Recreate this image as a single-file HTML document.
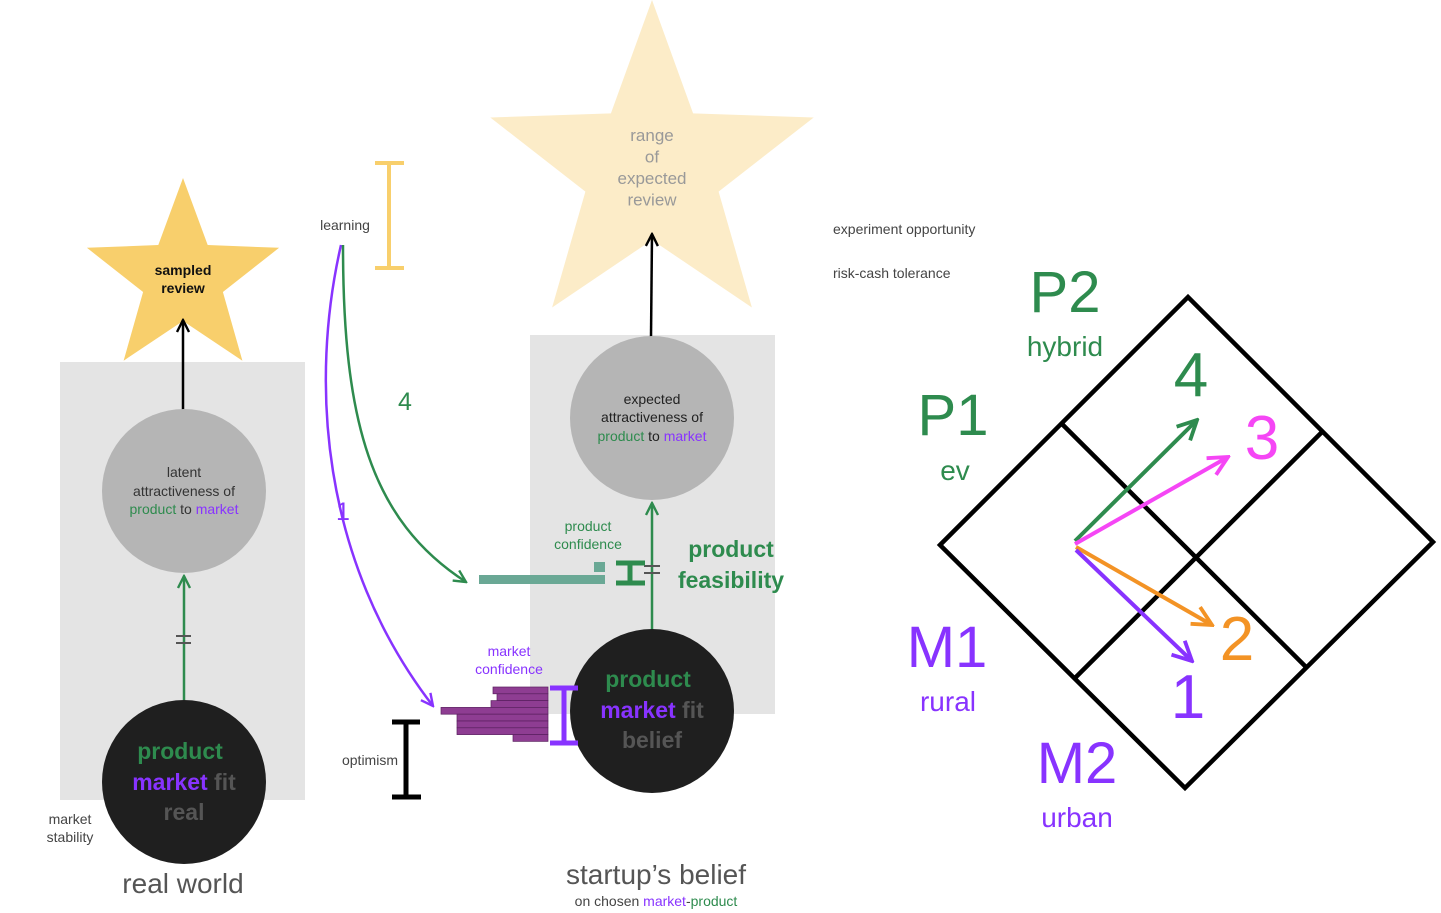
<!DOCTYPE html>
<html><head><meta charset="utf-8"><style>
html,body{margin:0;padding:0;background:#fff;}
svg{display:block;font-family:"Liberation Sans",sans-serif;}
</style></head><body>
<svg id="c" width="1441" height="913" viewBox="0 0 1441 913">
<defs>
<marker id="ab" viewBox="0 0 10 10" refX="9" refY="5" markerWidth="6" markerHeight="6" orient="auto"><path d="M1,1 L9,5 L1,9" fill="none" stroke="context-stroke" stroke-width="1.6"/></marker>
</defs>
<rect x="60" y="362" width="245" height="438" fill="#e4e4e4"/>
<rect x="530" y="335" width="245" height="379" fill="#e4e4e4"/>
<polygon id="starSmall" fill="#f8cf6c"/>
<polygon id="starBig" fill="#fcecc8"/>
<text x="183" y="275" font-size="14" font-weight="bold" text-anchor="middle" fill="#111"><tspan x="183">sampled</tspan><tspan x="183" dy="18">review</tspan></text>
<text x="652" y="141" font-size="17" text-anchor="middle" fill="#999"><tspan x="652">range</tspan><tspan x="652" dy="21.5">of</tspan><tspan x="652" dy="21.5">expected</tspan><tspan x="652" dy="21.5">review</tspan></text>
<line x1="183" y1="410" x2="183" y2="320" stroke="#000" stroke-width="2.5" marker-end="url(#ab)"/>
<line x1="651" y1="337" x2="652" y2="234" stroke="#000" stroke-width="2.5" marker-end="url(#ab)"/>
<circle cx="184" cy="491" r="82" fill="#b5b5b5"/>
<text x="184" y="477" font-size="14" text-anchor="middle" fill="#333"><tspan x="184">latent</tspan><tspan x="184" dy="19">attractiveness of</tspan><tspan x="184" dy="18"><tspan fill="#2e8b4e">product</tspan> to <tspan fill="#8833ff">market</tspan></tspan></text>
<line x1="184" y1="700" x2="184" y2="576" stroke="#2e8b4e" stroke-width="2.5" marker-end="url(#ab)"/>
<line x1="176" y1="636" x2="191" y2="636" stroke="#555" stroke-width="2"/><line x1="176" y1="643" x2="191" y2="643" stroke="#555" stroke-width="2"/>
<circle cx="184" cy="782" r="82" fill="#1f1f1f"/>
<text x="180" y="759" font-size="23" font-weight="bold" text-anchor="middle" fill="#2e8b4e">product<tspan x="184" dy="31" fill="#8833ff">market <tspan fill="#555">fit</tspan></tspan><tspan x="184" dy="30" fill="#555">real</tspan></text>
<text x="70" y="824" font-size="14" text-anchor="middle" fill="#444"><tspan x="70">market</tspan><tspan x="70" dy="18">stability</tspan></text>
<text x="183" y="893" font-size="28" text-anchor="middle" fill="#555">real world</text>
<text x="345" y="230" font-size="14" text-anchor="middle" fill="#444">learning</text>
<g stroke="#f8cf6c" stroke-width="4"><line x1="389" y1="163" x2="389" y2="268"/><line x1="375" y1="163" x2="404" y2="163"/><line x1="375" y1="268" x2="404" y2="268"/></g>
<path d="M341,245 C310,380 320,560 433,706" fill="none" stroke="#8833ff" stroke-width="2.5" marker-end="url(#ab)"/>
<path d="M343,245 C343,420 370,520 466,582" fill="none" stroke="#2e8b4e" stroke-width="2.5" marker-end="url(#ab)"/>
<text x="405" y="410" font-size="25" text-anchor="middle" fill="#2e8b4e">4</text>
<text x="343" y="520" font-size="25" text-anchor="middle" fill="#8833ff">1</text>
<g id="prodHist"></g>
<g id="mktHist"></g>
<text x="588" y="531" font-size="14" text-anchor="middle" fill="#2e8b4e"><tspan x="588">product</tspan><tspan x="588" dy="18">confidence</tspan></text>
<text x="509" y="656" font-size="14" text-anchor="middle" fill="#8833ff"><tspan x="509">market</tspan><tspan x="509" dy="18">confidence</tspan></text>
<g stroke="#000" stroke-width="5"><line x1="406" y1="722" x2="406" y2="797"/><line x1="392" y1="722" x2="420" y2="722"/><line x1="392" y1="797" x2="421" y2="797"/></g>
<text x="370" y="765" font-size="14" text-anchor="middle" fill="#444">optimism</text>
<line x1="652" y1="630" x2="652" y2="503" stroke="#2e8b4e" stroke-width="2.5" marker-end="url(#ab)"/>
<line x1="644" y1="566" x2="660" y2="566" stroke="#555" stroke-width="2"/><line x1="644" y1="573" x2="660" y2="573" stroke="#555" stroke-width="2"/>
<circle cx="652" cy="418" r="82" fill="#b5b5b5"/>
<text x="652" y="404" font-size="14" text-anchor="middle" fill="#222"><tspan x="652">expected</tspan><tspan x="652" dy="18">attractiveness of</tspan><tspan x="652" dy="19"><tspan fill="#2e8b4e">product</tspan> to <tspan fill="#8833ff">market</tspan></tspan></text>
<circle cx="652" cy="711" r="82" fill="#1f1f1f"/>
<text x="648" y="687" font-size="23" font-weight="bold" text-anchor="middle" fill="#2e8b4e">product<tspan x="652" dy="31" fill="#8833ff">market <tspan fill="#555">fit</tspan></tspan><tspan x="652" dy="30" fill="#555">belief</tspan></text>
<g stroke="#2e8b4e" stroke-width="5"><line x1="630" y1="563" x2="630" y2="583"/><line x1="616" y1="563" x2="645" y2="563"/><line x1="616" y1="583" x2="645" y2="583"/></g>
<g stroke="#8833ff" stroke-width="5"><line x1="564" y1="688" x2="564" y2="743"/><line x1="550" y1="688" x2="578" y2="688"/><line x1="550" y1="743" x2="578" y2="743"/></g>
<text x="731" y="557" font-size="23" font-weight="bold" text-anchor="middle" fill="#2e8b4e"><tspan x="731">product</tspan><tspan x="731" dy="31">feasibility</tspan></text>
<text x="656" y="884" font-size="28" text-anchor="middle" fill="#555">startup’s belief</text>
<text x="656" y="906" font-size="14" text-anchor="middle" fill="#444">on chosen <tspan fill="#8833ff">market</tspan>-<tspan fill="#2e8b4e">product</tspan></text>
<text x="833" y="234" font-size="14" fill="#444">experiment opportunity</text>
<text x="833" y="278" font-size="14" fill="#444">risk-cash tolerance</text>
<g fill="none" stroke="#000" stroke-width="4.5" stroke-linejoin="miter">
<polygon points="940,545 1188,297 1433,542 1185,788"/>
<line x1="1062" y1="424" x2="1306" y2="667"/>
<line x1="1075" y1="678" x2="1322" y2="432"/>
</g>
<g stroke-width="4" fill="none" marker-end="url(#ab)">
<line x1="1075" y1="541" x2="1197" y2="420" stroke="#2e8b4e"/>
<line x1="1075" y1="544" x2="1228" y2="457" stroke="#f546f5"/>
<line x1="1076" y1="547" x2="1212" y2="625" stroke="#f39325"/>
<line x1="1076" y1="550" x2="1192" y2="661" stroke="#8833ff"/>
</g>
<text x="1191" y="396" font-size="62" text-anchor="middle" fill="#2e8b4e">4</text>
<text x="1262" y="459" font-size="62" text-anchor="middle" fill="#f546f5">3</text>
<text x="1237" y="660" font-size="62" text-anchor="middle" fill="#f39325">2</text>
<text x="1188" y="718" font-size="62" text-anchor="middle" fill="#8833ff">1</text>
<text x="1065" y="312" font-size="58" text-anchor="middle" fill="#2e8b4e">P2</text>
<text x="1065" y="356" font-size="28" text-anchor="middle" fill="#2e8b4e">hybrid</text>
<text x="953" y="435" font-size="58" text-anchor="middle" fill="#2e8b4e">P1</text>
<text x="955" y="480" font-size="28" text-anchor="middle" fill="#2e8b4e">ev</text>
<text x="947" y="667" font-size="58" text-anchor="middle" fill="#8833ff">M1</text>
<text x="948" y="711" font-size="28" text-anchor="middle" fill="#8833ff">rural</text>
<text x="1077" y="783" font-size="58" text-anchor="middle" fill="#8833ff">M2</text>
<text x="1077" y="827" font-size="28" text-anchor="middle" fill="#8833ff">urban</text>
</svg>
<script>
// product confidence histogram (left edge of each row, right edge fixed)
const prodRowTops = [562, 575];
const prodRowLefts = [594, 479];
// market confidence histogram
const mktRowLefts = [493, 497, 491, 441, 457, 457, 457, 513];

const NS = "http://www.w3.org/2000/svg";
function star(id, cx, cy, R, r) {
  const pts = [];
  for (let i = 0; i < 10; i++) {
    const a = -Math.PI / 2 + i * Math.PI / 5;
    const rr = i % 2 === 0 ? R : r;
    pts.push((cx + rr * Math.cos(a)).toFixed(1) + "," + (cy + rr * Math.sin(a)).toFixed(1));
  }
  document.getElementById(id).setAttribute("points", pts.join(" "));
}
star("starSmall", 183, 279, 101, 42);
star("starBig", 652, 170, 170, 70);

const pg = document.getElementById("prodHist");
prodRowLefts.forEach((l, i) => {
  const r = document.createElementNS(NS, "rect");
  const h = i === 0 ? 10 : 9;
  r.setAttribute("x", l); r.setAttribute("y", prodRowTops[i]);
  r.setAttribute("width", 605 - l); r.setAttribute("height", h);
  r.setAttribute("fill", "#6aa895");
  
  
  pg.appendChild(r);
});
const mg = document.getElementById("mktHist");
const rowH = 6.8, top0 = 687, right = 548;
mktRowLefts.forEach((l, i) => {
  const r = document.createElementNS(NS, "rect");
  r.setAttribute("x", l); r.setAttribute("y", top0 + i * rowH);
  r.setAttribute("width", right - l); r.setAttribute("height", rowH);
  r.setAttribute("fill", "#8e3d92");
  r.setAttribute("stroke", "#5a2060"); r.setAttribute("stroke-width", "0.7");
  
  
  mg.appendChild(r);
});
</script>
</body></html>
